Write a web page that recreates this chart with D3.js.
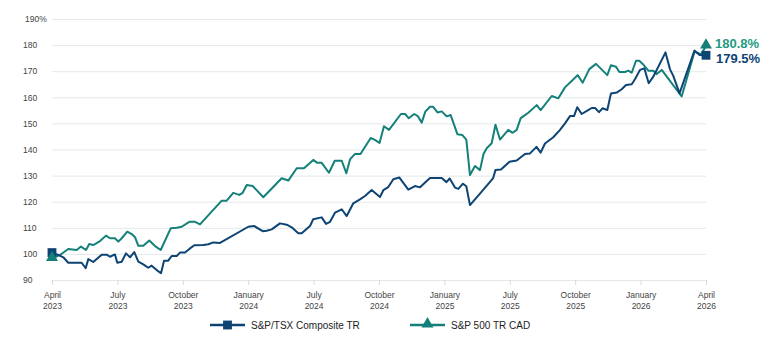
<!DOCTYPE html>
<html>
<head>
<meta charset="utf-8">
<script src="https://cdn.jsdelivr.net/npm/d3@7"></script>
<style>
  body { margin: 0; background: #fff; }
  svg { display: block; font-family: "Liberation Sans", Arial, sans-serif; }
  .axis text { fill: #444; font-size: 8.5px; }
  .grid line { stroke: #e3e8ea; }
  .xaxis line { stroke: #d5dadc; }
</style>
</head>
<body>
<div id="chart"></div>
<script>
// x positions are in label periods (0 = April 2023 ... 10 = April 2026)
var periodLabels = ['April', 'July', 'October', 'January', 'July', 'October', 'January', 'July', 'October', 'January', 'April'],
	periodYears = ['2023', '2023', '2023', '2024', '2024', '2024', '2025', '2025', '2025', '2026', '2026'],
	yTicks = [90, 100, 110, 120, 130, 140, 150, 160, 170, 180, 190],
	seriesNames = ['S&P/TSX Composite TR', 'S&P 500 TR CAD'],
	endLabels = ['179.5%', '180.8%'];

var tsx = [[0,100.5],[0.096,99.6],[0.173,98.7],[0.249,96.6],[0.454,96.6],[0.515,94.5],[0.555,98.0],[0.631,96.9],
	[0.760,99.7],[0.836,99.7],[0.887,98.9],[0.963,99.8],[0.998,96.6],[1.066,97.0],[1.131,100.2],[1.193,98.7],
	[1.258,100.7],[1.320,97.0],[1.396,96.0],[1.472,94.7],[1.524,95.5],[1.601,93.8],[1.667,92.6],[1.713,97.4],
	[1.778,97.4],[1.830,99.2],[1.907,99.2],[1.957,100.5],[2.034,100.5],[2.110,102.1],[2.176,103.3],[2.313,103.4],
	[2.390,103.7],[2.466,104.4],[2.569,104.2],[3.002,110.4],[3.089,110.7],[3.222,108.7],[3.283,108.9],[3.359,109.4],
	[3.486,111.7],[3.589,111.2],[3.665,110.2],[3.766,107.9],[3.818,107.9],[3.945,110.7],[3.995,113.3],[4.124,114.0],
	[4.190,111.5],[4.251,112.3],[4.327,115.8],[4.430,117.1],[4.506,114.5],[4.607,119.4],[4.709,120.9],[4.786,122.2],
	[4.888,124.5],[5.015,121.8],[5.066,124.4],[5.142,125.6],[5.219,128.6],[5.310,129.3],[5.448,124.6],[5.550,126.0],
	[5.627,125.5],[5.780,129.1],[5.959,129.1],[6.032,127.5],[6.081,128.9],[6.162,125.4],[6.213,124.9],[6.284,126.9],
	[6.335,125.9],[6.391,118.7],[6.544,123.1],[6.743,128.9],[6.781,132.1],[6.865,132.3],[6.995,135.3],[7.105,135.8],
	[7.232,138.3],[7.309,138.5],[7.408,141.0],[7.472,138.8],[7.538,142.3],[7.665,144.7],[7.768,147.5],[7.844,150.0],
	[7.920,152.8],[7.982,152.8],[8.032,156.2],[8.099,153.6],[8.185,154.9],[8.252,155.9],[8.303,155.9],[8.364,154.3],
	[8.420,155.8],[8.491,155.1],[8.547,161.5],[8.635,161.8],[8.711,163.1],[8.777,164.7],[8.864,165.0],[8.914,166.9],
	[8.991,170.5],[9.057,171.1],[9.124,165.4],[9.194,167.9],[9.381,177.2],[9.450,170.7],[9.500,168.2],[9.595,161.5],
	[9.824,177.9],[9.901,176.2],[10,176.1]];

var sp500 = [[0,98.2],[0.122,99.6],[0.249,101.9],[0.378,101.5],[0.443,102.8],[0.520,101.5],[0.570,103.8],[0.631,103.4],
	[0.734,104.9],[0.826,107.0],[0.887,106.0],[0.963,106.0],[1.014,104.7],[1.066,106.0],[1.151,108.5],[1.219,107.6],
	[1.269,106.4],[1.320,103.1],[1.396,103.1],[1.488,105.1],[1.575,103.0],[1.662,101.5],[1.815,109.8],[1.907,110.0],
	[1.983,110.4],[2.099,112.3],[2.187,112.3],[2.263,111.3],[2.595,120.4],[2.671,120.4],[2.772,123.4],[2.864,122.6],
	[2.916,123.4],[2.977,126.4],[3.069,126.0],[3.231,121.7],[3.512,129.0],[3.613,128.1],[3.742,132.8],[3.853,132.8],
	[3.995,136.0],[4.057,134.9],[4.124,134.9],[4.235,131.1],[4.323,135.7],[4.430,135.7],[4.500,130.9],[4.557,136.2],
	[4.633,138.3],[4.717,138.3],[4.873,144.4],[4.939,143.7],[5.008,142.5],[5.076,148.9],[5.153,147.5],[5.336,153.6],
	[5.398,153.6],[5.454,152.0],[5.538,153.6],[5.593,152.8],[5.653,150.3],[5.708,154.5],[5.780,156.4],[5.826,156.4],
	[5.894,154.2],[5.959,154.6],[6.035,152.7],[6.096,153.2],[6.200,145.8],[6.272,145.6],[6.335,143.8],[6.391,130.2],
	[6.468,133.7],[6.544,132.1],[6.598,138.3],[6.647,140.5],[6.723,142.4],[6.781,149.5],[6.850,143.8],[6.977,147.5],
	[7.044,146.4],[7.105,147.5],[7.167,152.0],[7.283,154.1],[7.411,157.0],[7.472,155.1],[7.641,160.5],[7.742,159.6],
	[7.844,163.8],[7.962,166.6],[8.038,168.5],[8.115,165.6],[8.216,170.8],[8.318,172.8],[8.491,168.5],[8.547,172.3],
	[8.624,171.7],[8.675,169.7],[8.761,169.7],[8.812,170.2],[8.864,169.4],[8.930,174.0],[8.980,174.0],[9.032,172.8],
	[9.118,170.2],[9.194,170.2],[9.246,168.9],[9.323,170.5],[9.628,160.3],[9.824,177.5],[9.924,176.5],[10,179.6]];

var width = 767, height = 354,
	margin = { top: 19, right: 61, bottom: 74, left: 52 },
	innerW = width - margin.left - margin.right,
	innerH = height - margin.top - margin.bottom,
	tsxColor = '#0d4473',
	spColor = '#14807a',
	spLabelColor = '#1f9a82';

var svg = d3.select('#chart').append('svg')
	.attr('width', width)
	.attr('height', height);

var g = svg.append('g')
	.attr('transform', 'translate(' + margin.left + ',' + margin.top + ')');

var x = d3.scaleLinear().domain([0, periodLabels.length - 1]).range([0, innerW]);
var y = d3.scaleLinear().domain([90, 190]).range([innerH, 0]);

// gridlines + y labels
var yAxis = g.append('g')
	.attr('class', 'axis grid')
	.call(d3.axisLeft(y).tickValues(yTicks).tickSize(-innerW)
		.tickFormat(function(d) { return d == 190 ? d + '%' : d; }));
yAxis.select('.domain').remove();
yAxis.selectAll('text')
	.attr('x', -29)
	.attr('dy', '0.32em')
	.style('text-anchor', 'start');
yAxis.selectAll('text').filter(function(d) { return d == 190; }).attr('x', -27);

// x axis ticks and two-line labels
var xAxis = g.append('g')
	.attr('class', 'axis xaxis')
	.attr('transform', 'translate(0,' + innerH + ')')
	.call(d3.axisBottom(x).tickValues(d3.range(periodLabels.length)).tickSize(5).tickFormat(''));
xAxis.select('.domain').remove();
var xt = xAxis.selectAll('.tick').append('text')
	.attr('fill', '#333')
	.style('text-anchor', 'middle');
xt.append('tspan').attr('x', 0).attr('y', 18).text(function(d) { return periodLabels[d]; });
xt.append('tspan').attr('x', 0).attr('y', 29).text(function(d) { return periodYears[d]; });

var line = d3.line()
	.x(function(d) { return x(d[0]); })
	.y(function(d) { return y(d[1]); });

g.append('path').datum(sp500)
	.attr('d', line)
	.attr('fill', 'none')
	.attr('stroke', spColor)
	.attr('stroke-width', 2)
	.attr('stroke-linejoin', 'round');

g.append('path').datum(tsx)
	.attr('d', line)
	.attr('fill', 'none')
	.attr('stroke', tsxColor)
	.attr('stroke-width', 2)
	.attr('stroke-linejoin', 'round');

var square = d3.symbol().type(d3.symbolSquare).size(78);
var triangle = d3.symbol().type(d3.symbolTriangle).size(62);

// start / end markers
[tsx[0], tsx[tsx.length - 1]].forEach(function(d) {
	g.append('path').attr('d', square)
		.attr('fill', tsxColor)
		.attr('transform', 'translate(' + x(d[0]) + ',' + y(d[1]) + ')');
});
[sp500[0], sp500[sp500.length - 1]].forEach(function(d) {
	g.append('path').attr('d', triangle)
		.attr('fill', spColor)
		.attr('transform', 'translate(' + x(d[0]) + ',' + (y(d[1]) - 1) + ')');
});

// end value labels
var lastTsx = tsx[tsx.length - 1], lastSp = sp500[sp500.length - 1];
g.append('text')
	.attr('x', x(lastSp[0]) + 9)
	.attr('y', y(lastSp[1]) - 3)
	.attr('dy', '0.35em')
	.attr('fill', spLabelColor)
	.style('font-family', '"Liberation Sans Narrow", "Arial Narrow", sans-serif')
	.style('font-weight', 'bold')
	.style('font-size', '13px')
	.text(endLabels[1]);
g.append('text')
	.attr('x', x(lastTsx[0]) + 10)
	.attr('y', y(lastTsx[1]) + 3)
	.attr('dy', '0.35em')
	.attr('fill', tsxColor)
	.style('font-family', '"Liberation Sans Narrow", "Arial Narrow", sans-serif')
	.style('font-weight', 'bold')
	.style('font-size', '13px')
	.text(endLabels[0]);

// legend
var legend = svg.append('g').attr('transform', 'translate(0,325)');
var legendItems = [
	{ name: seriesNames[0], color: tsxColor, sym: square, x: 210 },
	{ name: seriesNames[1], color: spColor, sym: triangle, x: 410 }
];
legendItems.forEach(function(d) {
	var lg = legend.append('g').attr('transform', 'translate(' + d.x + ',0)');
	lg.append('line')
		.attr('x1', 0).attr('x2', 35)
		.attr('stroke', d.color)
		.attr('stroke-width', 2.5);
	lg.append('path').attr('d', d.sym)
		.attr('fill', d.color)
		.attr('transform', 'translate(17.5,' + (d.sym === triangle ? -1 : 0) + ')');
	lg.append('text')
		.attr('x', 41)
		.attr('dy', '0.35em')
		.attr('fill', '#222')
		.style('font-size', '10px')
		.text(d.name);
});
</script>
</body>
</html>
